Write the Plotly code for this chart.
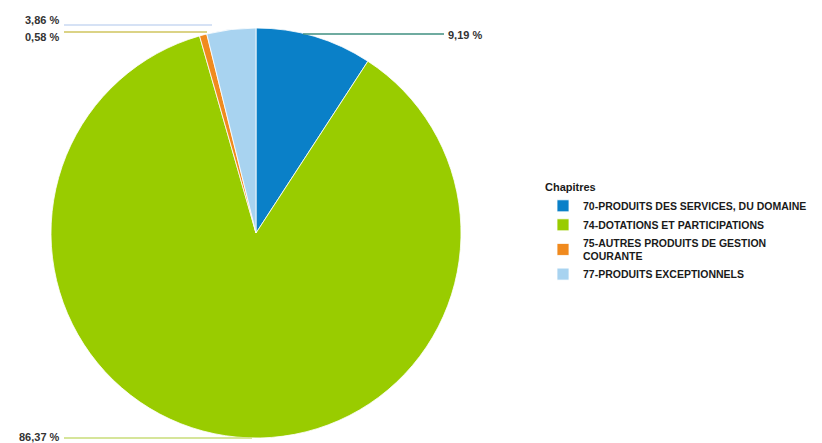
import plotly.graph_objects as go

labels = ["70-PRODUITS DES SERVICES, DU DOMAINE",
          "74-DOTATIONS ET PARTICIPATIONS",
          "75-AUTRES PRODUITS DE GESTION<br>COURANTE",
          "77-PRODUITS EXCEPTIONNELS"]
values = [9.19, 86.37, 0.58, 3.86]
value_texts = ["9,19 %", "86,37 %", "0,58 %", "3,86 %"]
colors = ["#0a80c8", "#99cc00", "#f08a1e", "#a8d3f0"]
line_colors = ["#3f8f80", "#c9dc78", "#cfc45e", "#c9d9f2"]

W, H = 822, 443
OFFX, OFFY = 8, 7
def px(x):
    return (x - OFFX) / W
def py(y):
    return 1 - (y - OFFY) / H

FONT = "Liberation Sans, Arial, sans-serif"

fig = go.Figure(go.Pie(
    labels=labels, values=values, sort=False, direction="clockwise",
    rotation=0, textinfo="none", hoverinfo="label+percent",
    marker=dict(colors=colors, line=dict(color="white", width=0.8)),
    domain=dict(x=[px(51), px(461)], y=[py(437), py(27)]),
))

# label placements (text anchor x, y, line start x, line end x, line y)
label_layout = [
    (446, 34, 303, 444, 33, "left"),
    (62, 436, 64, 252, 437, "right"),
    (61, 36, 64, 207, 31, "right"),
    (61, 19, 64, 212, 24, "right"),
]
shapes = []
annotations = []
for txt, lc, (tx, ty, x0, x1, ly, anchor) in zip(value_texts, line_colors, label_layout):
    shapes.append(dict(type="line", xref="paper", yref="paper",
                       x0=px(x0), x1=px(x1), y0=py(ly), y1=py(ly),
                       line=dict(color=lc, width=1.5)))
    annotations.append(dict(text="<b>" + txt + "</b>", xref="paper", yref="paper",
                            x=px(tx), y=py(ty), xanchor=anchor, yanchor="middle",
                            showarrow=False,
                            font=dict(family=FONT, size=11, color="#333333")))

fig.update_layout(
    width=W, height=H,
    margin=dict(l=0, r=0, t=0, b=0),
    paper_bgcolor="white", plot_bgcolor="white",
    showlegend=True,
    legend=dict(
        title=dict(text="<b>Chapitres</b>", font=dict(family=FONT, size=11, color="#1a1a1a")),
        x=px(543), y=py(176), xanchor="left", yanchor="top",
        font=dict(family=FONT, size=10.5, color="#1a1a1a", weight="bold"),
        itemclick=False, itemdoubleclick=False,
    ),
    shapes=shapes,
    annotations=annotations,
)

fig.write_html("out.html")
